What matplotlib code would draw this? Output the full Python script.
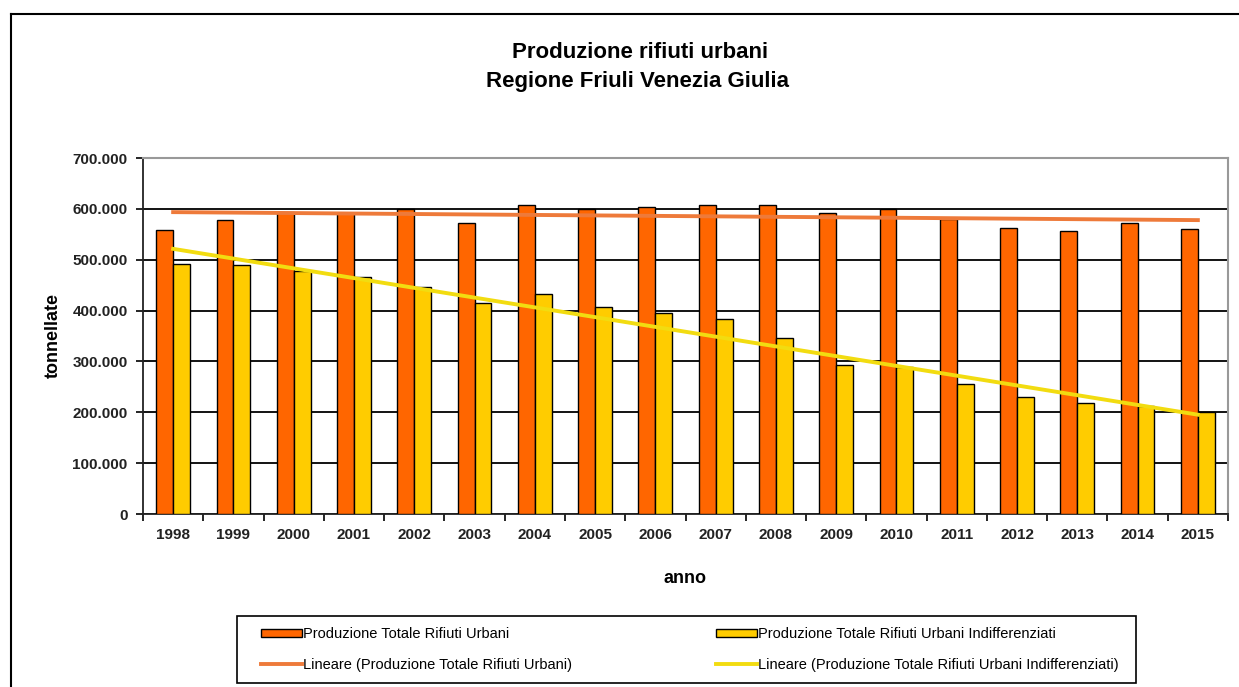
import numpy as np
import matplotlib
matplotlib.use("Agg")
import matplotlib.pyplot as plt
from matplotlib.ticker import FuncFormatter, FixedLocator, MultipleLocator
from matplotlib.lines import Line2D
from matplotlib.patches import Rectangle

plt.rcParams['font.family'] = ['Liberation Sans', 'DejaVu Sans']

years = [str(y) for y in range(1998, 2016)]
totale = [559000, 578000, 593000, 592000, 600000, 572000, 607000, 600000, 604000,
          607000, 607000, 592000, 600000, 580000, 563000, 557000, 572000, 560000]
indiff = [491000, 490000, 478000, 466000, 447000, 414000, 433000, 408000, 396000,
          383000, 347000, 292000, 289000, 256000, 230000, 218000, 212000, 200000]

label_tot = "Produzione Totale Rifiuti Urbani"
label_ind = "Produzione Totale Rifiuti Urbani Indifferenziati"
label_tr_tot = "Lineare (Produzione Totale Rifiuti Urbani)"
label_tr_ind = "Lineare (Produzione Totale Rifiuti Urbani Indifferenziati)"

c_tot = "#FF6600"
c_ind = "#FFCC00"
c_tr_tot = "#EE7A3A"
c_tr_ind = "#F2DC10"

W, H = 1239, 687
fig = plt.figure(figsize=(W / 100, H / 100), dpi=100)
ax = fig.add_axes([143 / W, 1 - 514 / H, (1228 - 143) / W, (514 - 158) / H])

x = np.arange(len(years))
w = 0.28
b1 = ax.bar(x - w / 2, totale, w, color=c_tot, edgecolor="black", linewidth=1.0, zorder=3, label=label_tot)
b2 = ax.bar(x + w / 2, indiff, w, color=c_ind, edgecolor="black", linewidth=1.0, zorder=3, label=label_ind)

p1 = np.polyfit(x, totale, 1)
p2 = np.polyfit(x, indiff, 1)
l1, = ax.plot(x, np.polyval(p1, x), color=c_tr_tot, lw=2.8, zorder=4, label=label_tr_tot)
l2, = ax.plot(x, np.polyval(p2, x), color=c_tr_ind, lw=2.8, zorder=4, label=label_tr_ind)

ax.set_xlim(-0.5, len(years) - 0.5)
ax.set_ylim(0, 700000)
ax.yaxis.set_major_locator(MultipleLocator(100000))
ax.yaxis.set_major_formatter(FuncFormatter(lambda v, p: f"{int(v):,}".replace(",", ".")))
ax.yaxis.grid(True, color="black", lw=1.3, zorder=1)
ax.set_axisbelow(True)

ax.set_xticks(x)
ax.set_xticklabels(years)
ax.xaxis.set_minor_locator(FixedLocator(np.arange(-0.5, len(years), 1.0)))
ax.tick_params(axis="x", which="major", length=0, pad=10, labelsize=11)
ax.tick_params(axis="x", which="minor", length=5, width=1.2, direction="out")
ax.tick_params(axis="y", which="major", length=5, width=1.2, direction="out", labelsize=11, pad=6)
for lab in ax.get_xticklabels() + ax.get_yticklabels():
    lab.set_fontweight("bold")
    lab.set_color("#222222")

ax.spines["left"].set_color("#222222")
ax.spines["bottom"].set_color("#222222")
ax.spines["left"].set_linewidth(1.3)
ax.spines["bottom"].set_linewidth(1.3)
ax.spines["top"].set_color("#999999")
ax.spines["right"].set_color("#999999")
ax.spines["top"].set_linewidth(1.5)
ax.spines["right"].set_linewidth(1.5)

ax.set_ylabel("tonnellate", fontsize=13, fontweight="bold", labelpad=8)
ax.set_xlabel("anno", fontsize=13, fontweight="bold", labelpad=20)

fig.text(640 / W, 1 - 52 / H, "Produzione rifiuti urbani", ha="center", va="center",
         fontsize=16, fontweight="bold")
fig.text(638 / W, 1 - 81 / H, "Regione Friuli Venezia Giulia", ha="center", va="center",
         fontsize=16, fontweight="bold")

# legend frame drawn separately to allow different horizontal/vertical padding
fig.add_artist(Rectangle((237 / W, 1 - 683 / H), (1136 - 237) / W, (683 - 616) / H,
                         transform=fig.transFigure, facecolor="white", edgecolor="black",
                         lw=1.2, zorder=1))
leg = fig.legend(handles=[b1, l1, b2, l2],
                 labels=[label_tot, label_tr_tot, label_ind, label_tr_ind],
                 ncol=2, mode="expand", loc="center",
                 bbox_to_anchor=(261 / W, 1 - 683 / H, (1119 - 261) / W, (683 - 616) / H),
                 fontsize=10.5, frameon=False,
                 handlelength=2.8, handleheight=0.5, handletextpad=0.1,
                 labelspacing=1.15, borderpad=0, borderaxespad=0)
leg.set_zorder(2)

# outer chart frame
fig.add_artist(Line2D([11 / W, 11 / W], [0, 1 - 14 / H], transform=fig.transFigure, color="black", lw=1.5))
fig.add_artist(Line2D([11 / W, 1], [1 - 14 / H, 1 - 14 / H], transform=fig.transFigure, color="black", lw=1.5))

fig.savefig("out.png", dpi=100, facecolor="white")
